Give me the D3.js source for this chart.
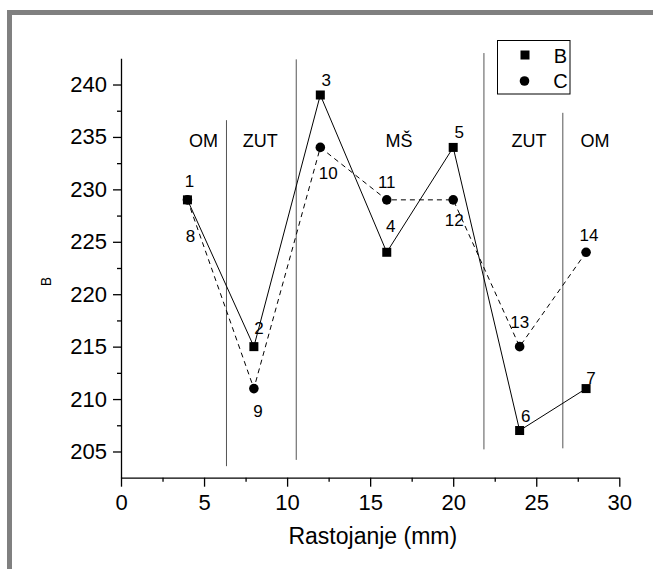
<!DOCTYPE html>
<html>
<head>
<meta charset="utf-8">
<script src="https://cdn.jsdelivr.net/npm/d3@7"></script>
<style>
  body { margin: 0; background: #fff; }
  text { font-family: "Liberation Sans", Arial, sans-serif; fill: #000; }
</style>
</head>
<body>
<div id="canvas"></div>
<script>
// data
const xs = [4, 8, 12, 16, 20, 24, 28];
const seriesB = [229, 215, 239, 224, 234, 207, 211];
const seriesC = [229, 211, 234, 229, 229, 215, 224];
const labelsB = ["1", "2", "3", "4", "5", "6", "7"];
const labelsC = ["8", "9", "10", "11", "12", "13", "14"];
const seriesNames = ["B", "C"];
const xTicks = [0, 5, 10, 15, 20, 25, 30];
const yTicks = [205, 210, 215, 220, 225, 230, 235, 240];
const zones = ["OM", "ZUT", "MŠ", "ZUT", "OM"];
const zoneX = [4.97, 8.39, 16.74, 24.56, 28.54];
const dividerX = [6.35, 10.55, 21.85, 26.6];
const dividerTop = [236.6, 242.4, 243.0, 237.3];
const dividerBottom = [203.6, 204.2, 205.2, 205.3];

// label offsets in px (layout only)
const offB = [[2, -18], [5, -18], [6, -14], [4, -26], [6, -15], [6, -14], [5, -10]];
const offC = [[3, 37], [4, 23], [8, 26], [0, -17], [1, 21], [0, -24], [3, -17]];

const width = 653, height = 569;
const svg = d3.select("#canvas").append("svg")
  .attr("width", width).attr("height", height);

// grey frame
svg.append("rect").attr("x", 7).attr("y", 10).attr("width", width - 7).attr("height", height - 10)
  .attr("fill", "#808080");
svg.append("rect").attr("x", 12).attr("y", 15).attr("width", width - 12).attr("height", height - 15)
  .attr("fill", "#fff");

const x = d3.scaleLinear().domain([0, 30]).range([121, 619.3]);
const y = d3.scaleLinear().domain([202.5, 242.5]).range([477.7, 58.3]);

// axes
svg.append("g").attr("transform", "translate(0,477.7)")
  .call(d3.axisBottom(x).tickValues(xTicks).tickFormat(d3.format("d")).tickSize(9).tickPadding(8).tickSizeOuter(0));
svg.append("g").attr("transform", "translate(0,477.7)")
  .call(d3.axisBottom(x).tickValues(d3.range(2.5, 30, 5)).tickFormat("").tickSize(4).tickSizeOuter(0))
  .select(".domain").remove();
svg.append("g").attr("transform", "translate(121,0)")
  .call(d3.axisLeft(y).tickValues(yTicks).tickFormat(d3.format("d")).tickSize(8).tickPadding(6).tickSizeOuter(0));
svg.append("g").attr("transform", "translate(121,0)")
  .call(d3.axisLeft(y).tickValues(d3.range(207.5, 242.5, 5)).tickFormat("").tickSize(4).tickSizeOuter(0))
  .select(".domain").remove();

svg.selectAll(".tick text").style("font-size", "22px").style("font-family", "'Liberation Sans', Arial, sans-serif");
svg.selectAll(".domain, .tick line").attr("stroke", "#000").attr("stroke-width", 1.3);

svg.append("text").attr("x", 372.8).attr("y", 544).attr("text-anchor", "middle")
  .style("font-size", "23px").text("Rastojanje (mm)");
svg.append("text").attr("transform", "translate(50.5,281.5) rotate(-90)").attr("text-anchor", "middle")
  .style("font-size", "14px").text("B");

// zone dividers
svg.selectAll(".divider").data(dividerX).enter().append("line")
  .attr("x1", d => x(d)).attr("x2", d => x(d))
  .attr("y1", (d, i) => y(dividerTop[i])).attr("y2", (d, i) => y(dividerBottom[i]))
  .attr("stroke", "#555").attr("stroke-width", 1);

svg.selectAll(".zone").data(zones).enter().append("text")
  .attr("x", (d, i) => x(zoneX[i])).attr("y", y(234))
  .attr("text-anchor", "middle").style("font-size", "18px").text(d => d);

// lines
const line = d3.line().x(d => x(d[0])).y(d => y(d[1]));
const ptsB = xs.map((d, i) => [d, seriesB[i]]);
const ptsC = xs.map((d, i) => [d, seriesC[i]]);

svg.append("path").datum(ptsC).attr("d", line).attr("fill", "none")
  .attr("stroke", "#000").attr("stroke-width", 1).attr("stroke-dasharray", "5,4");
svg.append("path").datum(ptsB).attr("d", line).attr("fill", "none")
  .attr("stroke", "#000").attr("stroke-width", 1);

svg.selectAll(".ptB").data(ptsB).enter().append("rect")
  .attr("x", d => x(d[0]) - 4.5).attr("y", d => y(d[1]) - 4.5)
  .attr("width", 9).attr("height", 9).attr("fill", "#000");
svg.selectAll(".ptC").data(ptsC).enter().append("circle")
  .attr("cx", d => x(d[0])).attr("cy", d => y(d[1])).attr("r", 4.8).attr("fill", "#000");

// point labels
svg.selectAll(".lbB").data(ptsB).enter().append("text")
  .attr("x", (d, i) => x(d[0]) + offB[i][0]).attr("y", (d, i) => y(d[1]) + offB[i][1])
  .attr("text-anchor", "middle").attr("dominant-baseline", "central")
  .style("font-size", "17px").text((d, i) => labelsB[i]);
svg.selectAll(".lbC").data(ptsC).enter().append("text")
  .attr("x", (d, i) => x(d[0]) + offC[i][0]).attr("y", (d, i) => y(d[1]) + offC[i][1])
  .attr("text-anchor", "middle").attr("dominant-baseline", "central")
  .style("font-size", "17px").text((d, i) => labelsC[i]);

// legend
const lg = svg.append("g");
lg.append("rect").attr("x", 497.5).attr("y", 40.5).attr("width", 72.5).attr("height", 53.5)
  .attr("fill", "#fff").attr("stroke", "#000").attr("stroke-width", 1);
lg.append("rect").attr("x", 520.5).attr("y", 50.5).attr("width", 9).attr("height", 9).attr("fill", "#000");
lg.append("circle").attr("cx", 524.5).attr("cy", 81).attr("r", 4.8).attr("fill", "#000");
lg.selectAll(".lgt").data(seriesNames).enter().append("text")
  .attr("x", 560.5).attr("y", (d, i) => 62.7 + i * 25.3)
  .attr("text-anchor", "middle").style("font-size", "20px").text(d => d);
</script>
</body>
</html>
